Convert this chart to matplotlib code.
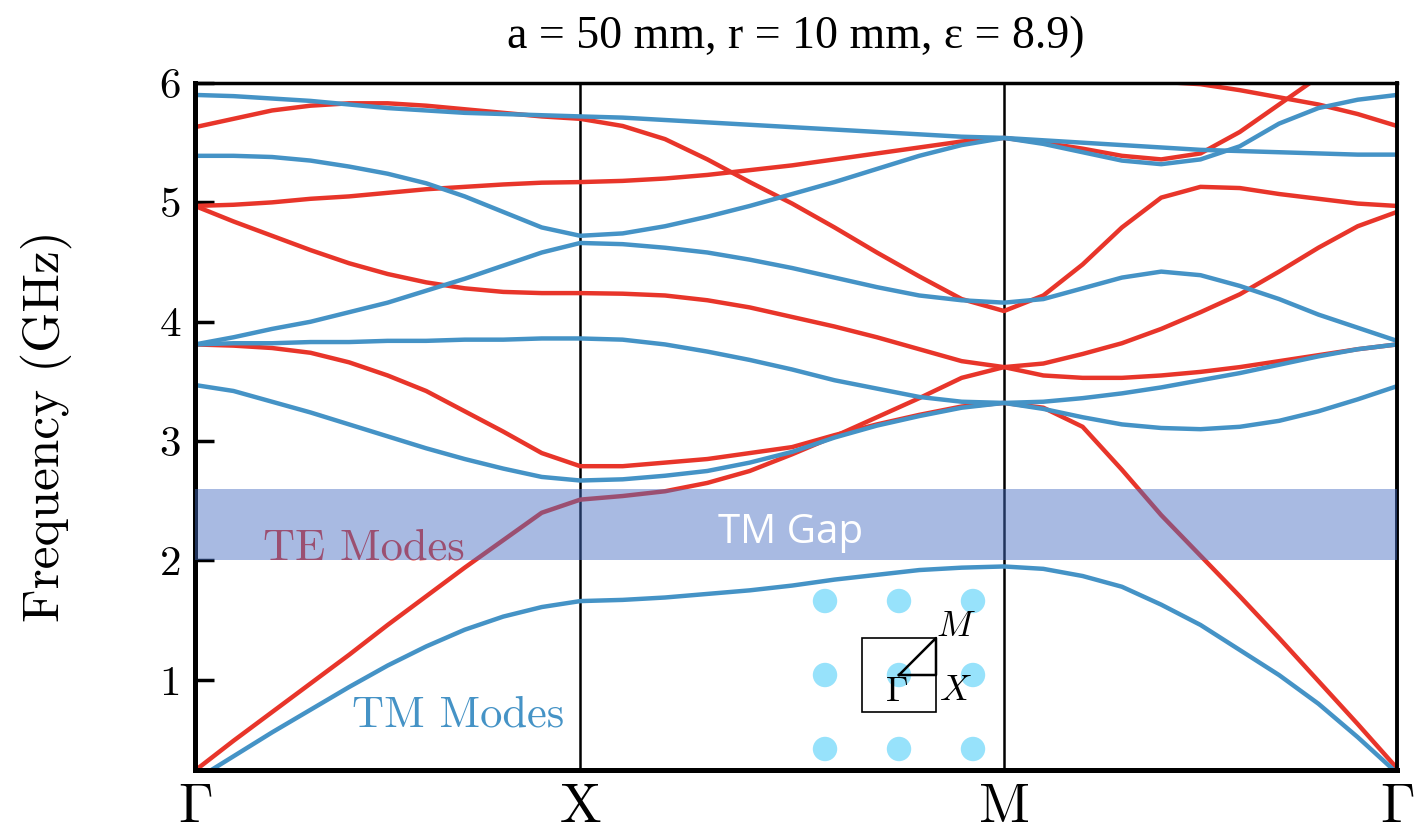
import numpy as np
import matplotlib.pyplot as plt
from matplotlib.patches import Circle, Rectangle

plt.rcParams['font.family'] = 'serif'
plt.rcParams['font.serif'] = ['cmr10']
plt.rcParams['mathtext.fontset'] = 'cm'
plt.rcParams['axes.unicode_minus'] = False

# path through the Brillouin zone
k_labels = ['$\\Gamma$', 'X', 'M', '$\\Gamma$']
k_pos = [0.0, 1.0, 2.1, 3.12]
n_seg = 11

nan = np.nan

# TE modes (GHz), 11 samples Gamma-X, then 10 X-M, then 10 M-Gamma
te_1 = [0.24, 0.49, 0.73, 0.97, 1.21, 1.46, 1.70, 1.94, 2.17, 2.40, 2.51,
        2.54, 2.58, 2.65, 2.75, 2.89, 3.04, 3.20, 3.36, 3.53, 3.62,
        3.65, 3.73, 3.82, 3.94, 4.08, 4.23, 4.42, 4.62, 4.80, 4.92]
te_2 = [3.81, 3.80, 3.78, 3.74, 3.66, 3.55, 3.42, 3.25, 3.08, 2.90, 2.79,
        2.79, 2.82, 2.85, 2.90, 2.95, 3.05, 3.14, 3.22, 3.29, 3.32,
        3.28, 3.12, 2.76, 2.38, 2.04, 1.70, 1.35, 0.99, 0.63, 0.26]
te_3 = [4.97, 4.84, 4.72, 4.60, 4.49, 4.40, 4.33, 4.28, 4.25, 4.24, 4.24,
        4.235, 4.22, 4.18, 4.12, 4.04, 3.96, 3.87, 3.77, 3.67, 3.62,
        3.55, 3.53, 3.53, 3.55, 3.58, 3.62, 3.67, 3.72, 3.77, 3.81]
te_4 = [4.97, 4.98, 5.00, 5.03, 5.05, 5.08, 5.11, 5.13, 5.15, 5.165, 5.17,
        5.18, 5.20, 5.23, 5.27, 5.31, 5.36, 5.41, 5.46, 5.51, 5.54,
        5.50, 5.45, 5.39, 5.36, 5.41, 5.59, 5.82, 6.05, 6.28, 6.50]
te_5 = [5.63, 5.70, 5.77, 5.81, 5.83, 5.83, 5.81, 5.78, 5.75, 5.72, 5.70,
        5.64, 5.53, 5.36, 5.17, 4.99, 4.79, 4.58, 4.38, 4.19, 4.09,
        4.22, 4.48, 4.79, 5.04, 5.13, 5.12, 5.07, 5.03, 4.99, 4.97]
te_6 = [nan] * 21 + [nan, 6.09, 6.05, 6.01, 5.99, 5.94, 5.88, 5.82, 5.74, 5.64]

# TM modes (GHz)
tm_1 = [0.16, 0.36, 0.56, 0.75, 0.94, 1.12, 1.28, 1.42, 1.53, 1.61, 1.66,
        1.67, 1.69, 1.72, 1.75, 1.79, 1.84, 1.88, 1.92, 1.94, 1.95,
        1.93, 1.87, 1.78, 1.63, 1.46, 1.25, 1.04, 0.80, 0.52, 0.22]
tm_2 = [3.47, 3.42, 3.33, 3.24, 3.14, 3.04, 2.94, 2.85, 2.77, 2.70, 2.67,
        2.68, 2.71, 2.75, 2.82, 2.91, 3.03, 3.13, 3.21, 3.28, 3.32,
        3.27, 3.20, 3.14, 3.11, 3.10, 3.12, 3.17, 3.25, 3.35, 3.46]
tm_3 = [3.81, 3.82, 3.82, 3.83, 3.83, 3.84, 3.84, 3.85, 3.85, 3.86, 3.86,
        3.85, 3.81, 3.75, 3.68, 3.60, 3.51, 3.44, 3.37, 3.33, 3.32,
        3.33, 3.36, 3.40, 3.45, 3.51, 3.57, 3.64, 3.71, 3.77, 3.81]
tm_4 = [3.81, 3.87, 3.94, 4.00, 4.08, 4.16, 4.26, 4.36, 4.47, 4.58, 4.66,
        4.65, 4.62, 4.58, 4.52, 4.45, 4.37, 4.29, 4.22, 4.18, 4.16,
        4.19, 4.28, 4.37, 4.42, 4.39, 4.30, 4.19, 4.06, 3.95, 3.84]
tm_5 = [5.39, 5.39, 5.38, 5.35, 5.30, 5.24, 5.16, 5.05, 4.92, 4.79, 4.72,
        4.74, 4.80, 4.88, 4.97, 5.07, 5.17, 5.28, 5.39, 5.48, 5.54,
        5.49, 5.42, 5.35, 5.32, 5.36, 5.47, 5.66, 5.79, 5.86, 5.90]
tm_6 = [5.90, 5.89, 5.87, 5.85, 5.82, 5.79, 5.77, 5.75, 5.74, 5.73, 5.72,
        5.71, 5.69, 5.67, 5.65, 5.63, 5.61, 5.59, 5.57, 5.55, 5.54,
        5.52, 5.50, 5.48, 5.46, 5.44, 5.43, 5.42, 5.41, 5.40, 5.40]

te_bands = [te_1, te_2, te_3, te_4, te_5, te_6]
tm_bands = [tm_1, tm_2, tm_3, tm_4, tm_5, tm_6]

gap = [2.0, 2.6]
lattice = [-1, 0, 1]

red = '#e8352a'
blue = '#4593c6'

k = np.concatenate([np.linspace(k_pos[0], k_pos[1], n_seg),
                    np.linspace(k_pos[1], k_pos[2], n_seg)[1:],
                    np.linspace(k_pos[2], k_pos[3], n_seg)[1:]])

fig = plt.figure(figsize=(14.19, 8.31), dpi=100)
ax = fig.add_axes([195 / 1419, 61 / 831, 1202 / 1419, 687 / 831])

for b in te_bands:
    ax.plot(k, b, color=red, lw=3.2, zorder=2, solid_joinstyle='round')
for b in tm_bands:
    ax.plot(k, b, color=blue, lw=3.2, zorder=2.2, solid_joinstyle='round')

for x in k_pos[1:3]:
    ax.axvline(x, color='k', lw=1.8, zorder=1.5)

ax.text(0.177, 2.01, 'TE Modes', color=red, fontsize=32, va='baseline', zorder=2.5)
ax.text(0.408, 0.61, 'TM Modes', color=blue, fontsize=32, va='baseline', zorder=2.5)

ax.axhspan(gap[0], gap[1], color='#466ec2', alpha=0.47, lw=0, zorder=3)
ax.text(1.545, 2.15, 'TM Gap', color='white', fontsize=29, family='Open Sans',
        ha='center', va='baseline', zorder=4)

ax.set_xlim(k_pos[0], k_pos[-1])
ax.set_ylim(0.245, 6.0)
ax.set_xticks(k_pos)
ax.set_xticklabels(k_labels, fontsize=40)
ax.set_yticks([1, 2, 3, 4, 5, 6])
ax.set_yticklabels(['1', '2', '3', '4', '5', '6'], fontsize=31)
ax.tick_params(axis='x', length=0, pad=10)
ax.tick_params(axis='y', direction='in', length=14, width=2.5, pad=10)

ax.spines['left'].set_linewidth(3.6)
ax.spines['bottom'].set_linewidth(3.6)
ax.spines['top'].set_linewidth(2.5)
ax.spines['right'].set_linewidth(2.8)

ax.set_ylabel('Frequency (GHz)', fontsize=37)
ax.yaxis.set_label_coords(-0.1023, 0.5)

ax.set_title('a = 50 mm, r = 10 mm, ε = 8.9)', family='Liberation Serif',
             fontsize=33, pad=25)

# real-space lattice inset
ins = fig.add_axes([804 / 1419, 61 / 831, 190 / 1419, 190 / 831])
ins.set_xlim(-1.284, 1.284)
ins.set_ylim(-1.284, 1.284)
ins.axis('off')
for i in lattice:
    for j in lattice:
        ins.add_patch(Circle((i, j), 0.165, color='#97e2fb', lw=0))
ins.add_patch(Rectangle((-0.5, -0.5), 1, 1, fill=False, ec='k', lw=1.2))
ins.plot([0, 0.5, 0.5, 0], [0, 0.5, 0, 0], color='k', lw=1.8)
ins.text(0.77, 0.64, '$M$', fontsize=26, ha='center', va='center')
ins.text(0.76, -0.22, '$X$', fontsize=26, ha='center', va='center')
ins.text(-0.03, -0.23, '$\\Gamma$', fontsize=26, ha='center', va='center')

plt.savefig('out.png', dpi=100)
